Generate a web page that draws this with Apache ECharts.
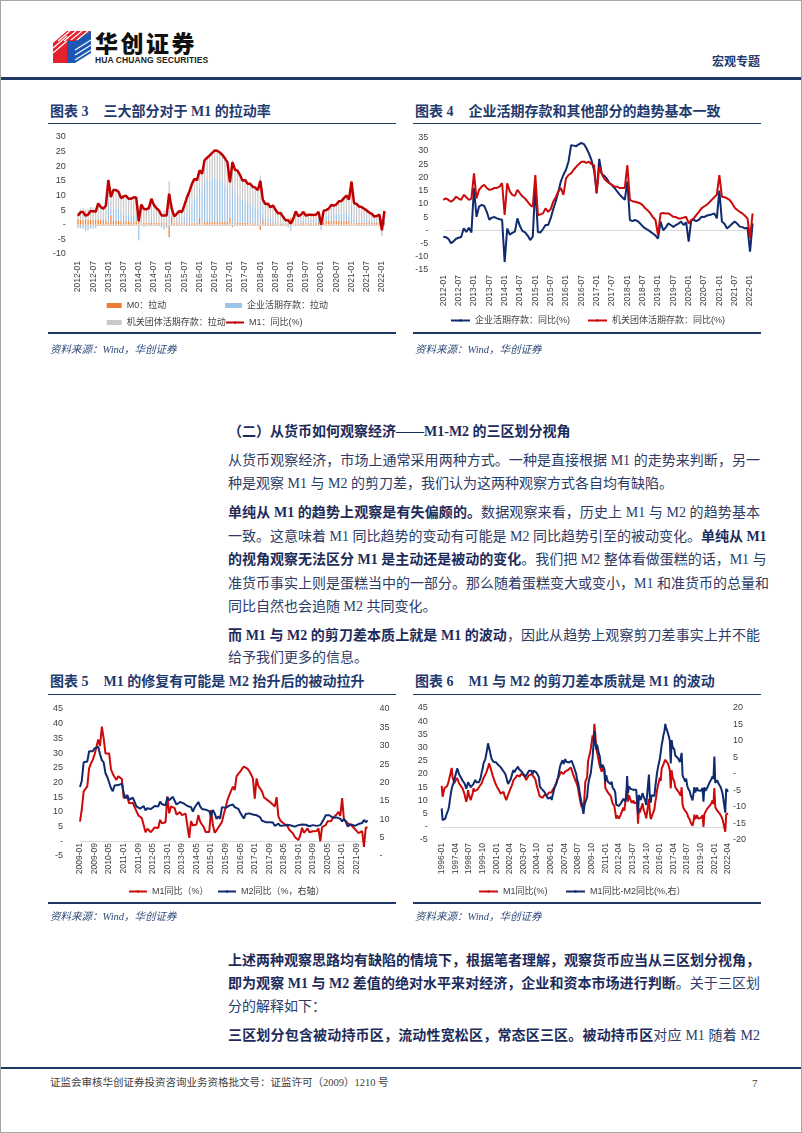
<!DOCTYPE html>
<html><head><meta charset="utf-8">
<script src="https://cdn.jsdelivr.net/npm/echarts@6/dist/echarts.min.js"></script>
<style>
body{margin:0;background:#fff;}
#page{position:relative;width:802px;height:1133px;background:#fff;overflow:hidden;font-family:"Liberation Serif","Noto Sans CJK SC",serif;}
#frame{position:absolute;left:0;top:0;width:800px;height:1131px;border:1px solid #a6a6a6;}
.t{position:absolute;left:228px;width:532px;font-size:14px;line-height:20px;height:20px;color:#2d3b66;white-space:nowrap;}
.j{text-align:justify;text-align-last:justify;}
.t b,.h{color:#1d2b5a;font-weight:bold;}
.ctitle{position:absolute;font-size:14px;font-weight:bold;color:#1f3a6e;line-height:18px;white-space:nowrap;}
.ul{position:absolute;height:1px;background:#1f3864;width:348px;}
.bl{position:absolute;height:2px;background:#1f3864;width:348px;}
.src{position:absolute;font-size:10.5px;line-height:14px;font-style:italic;color:#2f4a7a;white-space:nowrap;}
.chart{position:absolute;width:348px;height:205px;}
</style></head>
<body><div id="page">
<div id="frame"></div>
<!-- header -->
<svg style="position:absolute;left:52px;top:28px" width="40" height="36" viewBox="0 0 40 36">
<polygon points="1,15 15,3 15,35 1,35" fill="#e5222b"/>
<polygon points="15,3 39,3 27,13 15,13" fill="#e5222b"/>
<rect x="15" y="13" width="8" height="22" fill="#1d57b3"/>
<polygon points="23,13 39,3 39,25 23,35" fill="#1d57b3"/>
<g stroke="#fff" stroke-width="1.1">
<line x1="1" y1="20" x2="15" y2="8"/><line x1="1" y1="25" x2="15" y2="13"/>
<line x1="18" y1="3" x2="6" y2="13"/><line x1="24" y1="3" x2="12" y2="13"/><line x1="30" y1="3" x2="19" y2="12"/><line x1="36" y1="3" x2="25" y2="12"/>
<line x1="23" y1="22" x2="39" y2="12"/><line x1="23" y1="27" x2="39" y2="17"/><line x1="23" y1="32" x2="39" y2="22"/>
</g>
</svg>
<div style="position:absolute;left:95px;top:28px;font-family:'Noto Sans CJK SC';font-weight:900;font-size:23px;line-height:28px;letter-spacing:2.5px;color:#111;">华创证券</div>
<div style="position:absolute;left:95px;top:55px;font-family:'Liberation Sans Narrow','Liberation Sans';font-weight:bold;font-size:8.5px;line-height:10px;color:#222;letter-spacing:0.1px;">HUA CHUANG SECURITIES</div>
<div style="position:absolute;right:42px;top:54px;font-size:12px;line-height:16px;font-weight:bold;color:#1f3a6e;">宏观专题</div>
<div style="position:absolute;left:1px;top:77px;width:800px;height:3px;background:#1f3864;"></div>

<!-- chart titles -->
<div class="ctitle" style="left:50px;top:103px;">图表 3<span style="display:inline-block;width:15px"></span>三大部分对于 M1 的拉动率</div>
<div class="ul" style="left:48px;top:123px;"></div>
<div id="c3" class="chart" style="left:48px;top:128px;"></div>
<div class="bl" style="left:48px;top:332px;"></div>
<div class="src" style="left:50px;top:343px;">资料来源：Wind，华创证券</div>

<div class="ctitle" style="left:415px;top:103px;">图表 4<span style="display:inline-block;width:15px"></span>企业活期存款和其他部分的趋势基本一致</div>
<div class="ul" style="left:413px;top:123px;"></div>
<div id="c4" class="chart" style="left:413px;top:128px;"></div>
<div class="bl" style="left:413px;top:332px;"></div>
<div class="src" style="left:415px;top:343px;">资料来源：Wind，华创证券</div>

<!-- body text -->
<div class="t h" style="top:422px;">（二）从货币如何观察经济——M1-M2 的三区划分视角</div>
<div class="t j" style="top:451px;">从货币观察经济，市场上通常采用两种方式。一种是直接根据 M1 的走势来判断，另一</div>
<div class="t" style="top:474px;">种是观察 M1 与 M2 的剪刀差，我们认为这两种观察方式各自均有缺陷。</div>
<div class="t j" style="top:503px;"><b>单纯从 M1 的趋势上观察是有失偏颇的。</b>数据观察来看，历史上 M1 与 M2 的趋势基本</div>
<div class="t j" style="top:527px;">一致。这意味着 M1 同比趋势的变动有可能是 M2 同比趋势引至的被动变化。<b>单纯从 M1</b></div>
<div class="t j" style="top:550px;"><b>的视角观察无法区分 M1 是主动还是被动的变化</b>。我们把 M2 整体看做蛋糕的话，M1 与</div>
<div class="t j" style="top:574px;">准货币事实上则是蛋糕当中的一部分。那么随着蛋糕变大或变小，M1 和准货币的总量和</div>
<div class="t" style="top:597px;">同比自然也会追随 M2 共同变化。</div>
<div class="t j" style="top:626px;"><b>而 M1 与 M2 的剪刀差本质上就是 M1 的波动</b>，因此从趋势上观察剪刀差事实上并不能</div>
<div class="t" style="top:648px;">给予我们更多的信息。</div>

<div class="ctitle" style="left:50px;top:673px;">图表 5<span style="display:inline-block;width:15px"></span>M1 的修复有可能是 M2 抬升后的被动拉升</div>
<div class="ul" style="left:48px;top:694px;"></div>
<div id="c5" class="chart" style="left:48px;top:698px;"></div>
<div class="bl" style="left:48px;top:902px;"></div>
<div class="src" style="left:50px;top:910px;">资料来源：Wind，华创证券</div>

<div class="ctitle" style="left:415px;top:673px;">图表 6<span style="display:inline-block;width:15px"></span>M1 与 M2 的剪刀差本质就是 M1 的波动</div>
<div class="ul" style="left:413px;top:694px;"></div>
<div id="c6" class="chart" style="left:413px;top:698px;"></div>
<div class="bl" style="left:413px;top:902px;"></div>
<div class="src" style="left:415px;top:910px;">资料来源：Wind，华创证券</div>

<div class="t j" style="top:951px;"><b>上述两种观察思路均有缺陷的情境下，根据笔者理解，观察货币应当从三区划分视角，</b></div>
<div class="t j" style="top:974px;"><b>即为观察 M1 与 M2 差值的绝对水平来对经济，企业和资本市场进行判断</b>。关于三区划</div>
<div class="t" style="top:997px;">分的解释如下：</div>
<div class="t j" style="top:1026px;"><b>三区划分包含被动持币区，流动性宽松区，常态区三区。被动持币区</b>对应 M1 随着 M2</div>

<!-- footer -->
<div style="position:absolute;left:1px;top:1067px;width:800px;height:2px;background:#1f3864;"></div>
<div style="position:absolute;left:50px;top:1076px;font-size:10.5px;line-height:14px;color:#404040;white-space:nowrap;">证监会审核华创证券投资咨询业务资格批文号：证监许可（2009）1210 号</div>
<div style="position:absolute;left:752px;top:1076px;font-size:11px;line-height:14px;color:#404040;">7</div>
</div>

<script>
// ---------------- DATA ----------------
// M1 yoy (%), monthly 1996-01 .. 2022-04
const m1Yoy = [
15.5,11.4,13.0,14.6,14.0,15.0,15.5,16.5,17.7,17.0,18.0,22.3,
18.5,17.7,16.5,17.5,18.0,18.4,17.5,16.5,16.0,15.5,15.0,14.5,
13.9,12.5,11.0,9.5,11.0,13.9,12.0,11.0,10.1,11.5,12.5,14.6,
13.5,13.9,13.5,14.0,14.6,15.0,14.5,15.5,16.5,17.5,18.4,17.7,
19.0,20.5,21.5,22.5,24.0,23.0,22.0,20.8,19.5,18.5,17.5,16.5,
16.4,15.0,14.5,13.9,13.5,12.5,13.0,12.0,13.3,12.0,11.5,10.1,
11.0,12.0,13.0,13.9,14.5,15.5,16.5,17.7,18.0,18.5,19.0,19.5,
20.2,19.5,19.0,20.0,20.5,20.0,19.6,19.0,18.5,17.7,18.5,19.0,
19.5,19.6,20.0,20.0,19.5,19.0,19.0,18.0,16.5,15.0,13.9,12.5,
11.5,10.8,10.8,11.0,11.5,12.0,12.0,12.0,12.0,12.5,13.0,13.0,
13.3,13.0,14.0,14.5,15.0,15.5,16.5,17.7,18.0,19.0,20.0,20.8,
20.8,20.5,20.0,20.5,21.0,20.8,21.0,21.5,22.0,22.0,22.5,22.1,
20.5,19.5,18.5,17.7,18.0,16.0,14.5,12.5,10.5,8.8,7.5,9.0,
6.7,10.9,17.0,17.5,18.7,24.8,26.4,27.7,29.5,32.0,34.6,32.4,
39.0,35.0,29.9,30.4,29.9,24.6,22.9,21.9,20.9,22.1,22.1,21.2,
14.8,15.3,15.0,12.9,12.7,13.1,11.6,11.2,8.9,8.4,7.8,7.9,
3.1,4.3,4.4,3.1,3.5,4.7,4.6,4.5,7.3,6.1,5.5,6.5,
15.3,9.5,11.9,11.9,11.3,9.1,9.7,9.9,8.9,8.9,9.4,9.3,
1.2,6.9,5.4,5.3,5.7,8.9,6.7,5.7,4.8,3.2,3.2,3.2,
10.6,5.6,2.9,3.7,4.7,4.3,6.6,9.3,11.4,14.0,15.7,15.2,
18.6,17.4,22.1,22.9,23.7,24.6,25.4,25.3,24.7,23.9,22.7,21.4,
14.5,21.4,18.8,18.5,17.0,15.0,15.3,14.0,14.0,13.0,12.7,11.8,
15.0,8.5,7.1,7.2,6.0,6.6,5.1,3.9,4.0,2.7,1.5,1.5,
0.4,2.0,4.6,2.9,3.4,4.4,3.1,3.4,3.4,3.3,3.5,4.4,
0.0,4.8,5.0,5.5,6.8,6.5,6.9,8.0,8.1,9.1,10.0,8.6,
14.7,7.4,7.1,6.2,6.1,5.5,4.9,4.2,3.7,2.8,3.0,3.5,
-1.9,4.7,4.7,5.1];

// M1 yoy minus M2 yoy (pp), monthly 1996-01 .. 2022-04
const m1m2Gap = [
-10.4,-14.0,-14.5,-14.5,-13.5,-12.5,-12.0,-11.0,-10.0,-7.9,-6.0,-4.5,
-3.5,-2.8,-1.5,-0.5,0.5,1.7,1.0,0.0,-0.3,-1.0,-1.5,-2.0,
-2.5,-2.8,-3.5,-4.5,-3.5,-2.5,-2.3,-3.0,-4.0,-3.5,-4.3,-3.0,
-2.5,-1.8,-2.5,-3.0,-2.0,-2.5,-2.3,-1.0,0.5,1.5,3.2,3.0,
4.5,6.0,7.5,9.3,8.0,7.0,5.5,4.5,4.0,3.7,3.8,3.6,
3.5,3.0,2.8,2.5,2.2,2.0,1.5,1.2,1.0,0.7,0.0,-1.0,
-2.0,-3.0,-3.3,-3.0,-1.5,-0.5,0.5,1.2,0.5,1.0,1.5,2.0,
2.2,1.5,1.0,1.5,0.7,0.5,0.0,-0.5,-0.8,-0.5,0.0,0.5,
1.0,0.7,0.5,1.0,0.0,1.0,0.7,1.5,0.5,0.7,0.7,-1.0,
-3.8,-4.0,-4.5,-4.5,-5.0,-5.4,-6.0,-6.5,-7.0,-7.5,-7.9,-7.5,
-7.0,-7.9,-6.5,-5.5,-4.3,-4.0,-3.0,-2.0,-1.0,0.5,2.0,3.0,
3.5,4.2,3.0,3.5,4.5,3.7,3.5,4.0,3.5,3.7,3.0,4.0,
3.7,2.5,2.0,2.0,0.0,-1.8,-2.5,-4.0,-6.0,-7.5,-9.0,-8.5,
-12.1,-9.6,-8.5,-8.5,-7.0,-3.7,-2.0,-0.8,0.2,2.6,4.9,4.7,
12.9,9.5,7.4,8.9,8.9,6.1,5.3,2.7,1.9,2.8,2.6,1.5,
-2.4,-0.4,-1.6,-2.4,-2.4,-2.8,-3.1,-2.3,-4.1,-4.5,-4.9,-5.7,
-9.3,-8.7,-9.0,-9.7,-9.7,-8.9,-9.3,-9.0,-7.5,-8.0,-8.4,-7.3,
-0.6,-5.7,-3.8,-4.2,-4.5,-4.9,-4.8,-4.8,-5.3,-5.4,-4.8,-4.3,
-12.0,-6.4,-6.7,-7.9,-7.7,-5.8,-6.8,-7.1,-8.1,-9.4,-9.1,-9.0,
-0.2,-6.9,-8.7,-6.4,-6.1,-5.9,-6.7,-4.0,-1.7,0.5,2.0,1.9,
4.6,4.1,8.7,10.1,11.9,12.8,15.2,13.9,13.2,12.3,11.3,10.1,
3.2,10.3,8.2,8.0,7.4,5.6,6.1,5.1,4.8,4.2,3.6,3.6,
6.4,-0.3,-1.1,-1.1,-2.3,-1.4,-3.4,-4.3,-4.3,-5.3,-6.5,-6.6,
-8.0,-6.0,-4.0,-5.6,-5.1,-4.1,-5.0,-4.8,-5.0,-5.1,-4.7,-4.3,
-8.4,-4.0,-5.1,-5.6,-4.3,-4.6,-3.8,-2.4,-2.8,-1.4,-0.7,-1.5,
5.3,-2.7,-2.3,-1.9,-2.2,-3.1,-3.4,-4.0,-4.6,-5.9,-5.5,-5.5,
-11.7,-4.5,-5.0,-5.4];

// M2 yoy (%), monthly 2009-01 .. 2022-03
const m2Yoy = [
18.8,20.5,25.5,26.0,25.7,28.5,28.4,28.5,29.3,29.4,29.7,27.7,
26.1,25.5,22.5,21.5,21.0,18.5,17.6,19.2,19.0,19.3,19.5,19.7,
17.2,15.7,16.6,15.3,15.1,15.9,14.7,13.5,13.0,12.9,12.7,13.6,
12.4,13.0,13.4,12.8,13.2,13.6,13.9,13.5,14.8,14.1,13.9,13.8,
15.9,15.2,15.7,16.1,15.8,14.0,14.5,14.7,14.2,14.3,14.2,13.6,
13.2,13.3,12.1,13.2,13.4,14.7,13.5,12.8,12.9,12.6,12.3,12.2,
10.8,12.5,11.6,10.1,10.8,10.2,13.3,13.3,13.1,13.5,13.7,13.3,
14.0,13.3,13.4,12.8,11.8,11.8,10.2,11.4,11.5,11.6,11.4,11.3,
11.3,11.1,10.6,10.5,9.6,9.4,9.2,8.9,9.2,8.8,9.1,8.2,
8.6,8.8,8.2,8.3,8.3,8.0,8.5,8.2,8.3,8.0,8.0,8.1,
8.4,8.0,8.6,8.5,8.5,8.5,8.1,8.2,8.4,8.4,8.2,8.7,
8.4,8.8,10.1,11.1,11.1,11.1,10.7,10.4,10.9,10.5,10.7,10.1,
9.4,10.1,9.4,8.1,8.3,8.6,8.3,8.2,8.3,8.7,8.5,9.0,
9.8,9.2,9.7];

// Contributions to M1 yoy (pp), monthly 2012-01 .. 2022-02
const m0Pull = [
2.0,1.6,1.7,1.7,1.6,1.7,1.7,1.6,1.8,1.6,1.5,1.5,
0.6,3.2,1.4,1.3,1.3,1.2,1.2,1.2,1.2,1.1,1.1,1.2,
3.0,-0.3,0.7,0.7,0.7,0.6,0.6,0.6,0.6,0.6,0.5,0.5,
-4.3,2.8,0.5,0.5,0.5,0.5,0.5,0.5,0.5,0.5,0.5,0.6,
2.4,0.1,0.9,0.9,0.9,1.0,1.0,1.0,1.0,1.0,1.0,1.1,
2.5,-0.8,0.7,0.6,0.6,0.6,0.6,0.6,0.5,0.5,0.4,0.4,
-1.8,1.9,0.5,0.5,0.5,0.5,0.5,0.4,0.4,0.4,0.4,0.5,
2.5,-0.3,0.4,0.4,0.5,0.5,0.5,0.5,0.5,0.5,0.5,0.6,
1.3,0.6,1.4,1.4,1.4,1.4,1.3,1.3,1.3,1.2,1.3,1.2,
-0.5,0.5,0.7,0.7,0.7,0.7,0.7,0.7,0.6,0.6,0.6,0.6,
2.0,0.6];
const corpPull = [
-1.1,-1.2,-1.4,-2.2,-1.9,-1.4,-1.3,-1.1,0.4,-0.3,0.5,-0.4,
7.2,2.3,4.1,4.3,4.1,3.2,1.8,2.2,2.3,2.0,1.9,1.8,
-5.4,0.3,-0.7,-0.5,-0.2,2.0,0.7,-0.1,-0.4,-0.9,-1.7,-1.1,
7.7,-0.3,-0.4,0.2,0.9,0.9,2.0,3.6,5.0,6.5,8.3,9.5,
10.3,11.7,14.5,14.4,14.3,14.6,14.9,14.7,14.2,13.9,12.8,11.9,
6.3,12.2,9.6,9.3,8.8,8.0,7.7,7.2,6.6,6.1,5.6,5.2,
8.3,1.8,1.6,1.8,1.6,1.2,0.7,0.3,0.1,-0.2,-0.5,-0.9,
-1.4,1.5,0.0,0.5,1.2,0.9,0.6,0.9,1.1,1.5,0.9,1.4,
-1.9,1.8,1.8,1.6,1.8,2.3,2.3,2.5,2.6,2.7,2.9,2.0,
6.8,1.5,1.1,0.3,0.7,1.1,1.5,1.1,0.6,0.5,0.3,0.5,
-3.6,1.2];
const orgPull = [
2.2,3.9,4.1,3.6,3.8,4.4,4.2,4.0,5.1,4.8,3.5,5.4,
7.5,4.0,6.4,6.3,5.9,4.7,6.7,6.5,5.4,5.8,6.4,6.3,
3.6,6.9,5.4,5.1,5.2,6.3,5.4,5.2,4.6,3.5,4.4,3.8,
7.2,3.1,2.8,3.0,3.3,2.9,4.1,5.2,5.9,7.0,6.9,5.1,
5.9,5.6,6.7,7.6,8.5,9.0,9.5,9.6,9.5,9.0,8.9,8.4,
5.7,10.0,8.5,8.6,7.6,6.4,7.0,6.2,6.9,6.4,6.7,6.2,
8.5,4.8,5.0,4.9,3.9,4.9,3.9,3.2,3.5,2.5,1.6,1.9,
-0.7,0.8,4.2,2.0,1.7,3.0,2.0,2.0,1.8,1.3,2.1,2.4,
0.6,2.4,1.8,2.5,3.6,2.8,3.3,4.2,4.2,5.2,5.8,5.4,
8.4,5.4,5.3,5.2,4.7,3.7,2.7,2.4,2.5,1.7,2.1,2.4,
-0.3,2.9];

// Yoy of demand deposits (%), monthly 2012-01 .. 2022-02
const corpYoy = [
-2.4,-2.6,-3.2,-4.9,-4.2,-3.2,-2.8,-2.5,0.8,-0.6,1.0,-0.8,
16.0,5.1,9.0,9.6,9.2,7.0,4.0,4.8,5.0,4.5,4.2,4.0,
-12.0,0.7,-1.6,-1.0,-0.5,4.5,1.5,-0.3,-0.8,-2.0,-3.7,-2.4,
17.0,-0.6,-0.8,0.5,2.0,2.0,4.5,8.0,11.0,14.5,18.5,21.0,
22.9,26.0,32.2,32.0,31.8,32.5,33.0,32.6,31.0,29.0,26.4,22.6,
14.0,27.0,21.3,20.6,19.5,17.8,17.0,16.0,14.7,13.5,12.5,11.5,
18.5,3.9,3.5,3.9,3.5,2.6,1.5,0.7,0.2,-0.5,-1.2,-2.0,
-3.1,3.3,0.0,1.0,2.6,2.0,1.3,2.0,2.5,3.3,2.0,3.0,
-4.3,3.9,3.9,3.5,4.0,5.1,5.0,5.5,5.8,6.0,6.4,4.5,
15.0,3.3,2.5,0.7,1.5,2.5,3.3,2.5,1.4,1.2,0.7,1.0,
-8.1,2.6];
const orgYoy = [
11.5,12.1,11.5,10.8,11.5,12.7,12.0,11.5,13.4,12.5,11.5,12.0,
21.5,12.1,15.3,16.5,17.2,16.0,15.3,15.5,16.0,16.0,16.5,17.8,
5.8,17.8,14.7,13.4,13.0,15.3,14.0,12.8,12.0,10.8,9.5,8.9,
20.9,5.8,6.0,6.4,8.3,7.0,8.0,10.8,12.5,14.7,16.0,13.4,
19.6,20.9,21.5,22.9,24.0,25.0,25.9,25.9,25.5,25.9,25.0,24.6,
14.0,24.0,21.3,19.5,18.5,17.8,17.2,16.5,16.5,16.0,16.0,16.0,
24.6,11.5,11.0,10.8,10.5,10.2,9.5,8.3,7.5,6.4,5.0,3.9,
-1.8,6.4,6.5,6.4,6.4,5.8,5.1,5.0,4.5,4.5,4.8,5.1,
2.6,3.9,4.5,5.8,7.0,8.3,9.0,9.6,10.5,11.5,12.5,13.4,
20.9,12.7,12.5,12.1,11.5,10.2,8.5,7.7,7.0,6.4,5.5,4.5,
-3.0,6.4];

// month categories
function monthLabels(y0, mo0, n) {
  const a = [];
  for (let i = 0; i < n; i++) {
    const t = mo0 - 1 + i, y = y0 + Math.floor(t / 12), m = t % 12 + 1;
    a.push(y + '-' + (m < 10 ? '0' : '') + m);
  }
  return a;
}
const months3 = monthLabels(2012, 1, corpPull.length);   // 2012-01 .. 2022-02
const months5 = monthLabels(2009, 1, m2Yoy.length);      // 2009-01 .. 2022-03
const months6 = monthLabels(1996, 1, m1Yoy.length);      // 1996-01 .. 2022-04
const m1For3 = m1Yoy.slice(192, 192 + months3.length);
const m1For5 = m1Yoy.slice(156, 156 + months5.length);

// ---------------- STYLE HELPERS ----------------
const FONT = '"Liberation Sans","Noto Sans CJK SC",sans-serif';
const LBL = '#404040';
const RED = '#cc0a0a', NAVY = '#0f2a6e';
function yAx(min, max, interval, margin, position) {
  return { type: 'value', min, max, interval, position,
    axisLine: { show: false }, axisTick: { show: false }, splitLine: { show: false },
    axisLabel: { color: LBL, fontSize: 9, fontFamily: FONT, margin,
      formatter: v => (v === 0 ? '-' : String(v)) } };
}
function xAx(data, interval, margin, boundaryGap) {
  return { type: 'category', data, boundaryGap, position: 'bottom',
    axisTick: { show: false },
    axisLine: { show: false, onZero: false },
    axisLabel: { interval, rotate: 90, margin, fontSize: 8.5, color: LBL, fontFamily: FONT } };
}
function leg(name, left, top, icon, w, h) {
  const o = { data: [name], left, top, padding: 0, itemWidth: w, itemHeight: h,
    textStyle: { fontSize: 9, color: LBL, fontFamily: FONT }, selectedMode: false };
  if (icon) o.icon = icon;
  return o;
}
const zeroMark = { silent: true, symbol: 'none', label: { show: false },
  lineStyle: { color: '#d9d9d9', width: 1, type: 'solid' }, data: [{ yAxis: 0 }], animation: false };
function grid(left, right, top, height) {
  return { left, right, top, height, containLabel: false, outerBoundsMode: 'none' };
}
function line(name, data, color, width, yAxisIndex, extra) {
  return Object.assign({ name, type: 'line', data, yAxisIndex: yAxisIndex || 0, symbol: 'none',
    showSymbol: false, lineStyle: { color, width }, itemStyle: { color }, z: 5 }, extra || {});
}

// ---------------- CHART 3 ----------------
const c3 = echarts.init(document.getElementById('c3'));
c3.setOption({
  animation: false,
  grid: grid(28.7, 10.3, 9, 117),
  xAxis: xAx(months3, 5, 7, true),
  yAxis: yAx(-10, 30, 5, 11),
  legend: [
    leg('M0：拉动', 58.7, 173, 'rect', 15, 5),
    leg('企业活期存款：拉动', 177, 173, 'rect', 17, 5),
    leg('机关团体活期存款：拉动', 58.7, 190, 'rect', 15, 5),
    leg('M1：同比(%)', 177, 190, null, 18, 3)
  ],
  series: [
    { name: 'M0：拉动', type: 'bar', stack: 'p', data: m0Pull, barWidth: 1.2, itemStyle: { color: '#ed7d31' },
      markLine: zeroMark },
    { name: '企业活期存款：拉动', type: 'bar', stack: 'p', data: corpPull, barWidth: 1.2, itemStyle: { color: '#9dc3e6' } },
    { name: '机关团体活期存款：拉动', type: 'bar', stack: 'p', data: orgPull, barWidth: 1.2, itemStyle: { color: '#c9c9c9' } },
    line('M1：同比(%)', m1For3, '#c00000', 2.5, 0)
  ]
});

// ---------------- CHART 4 ----------------
const c4 = echarts.init(document.getElementById('c4'));
c4.setOption({
  animation: false,
  grid: grid(30.3, 8.4, 9.7, 132.3),
  xAxis: xAx(months3, 5, 5, false),
  yAxis: yAx(-15, 35, 5, 15),
  legend: [
    leg('企业活期存款：同比(%)', 37, 188, null, 19, 3),
    leg('机关团体活期存款：同比(%)', 174, 188, null, 19, 3)
  ],
  series: [
    line('企业活期存款：同比(%)', corpYoy, NAVY, 2, 0, { markLine: zeroMark }),
    line('机关团体活期存款：同比(%)', orgYoy, RED, 2, 0)
  ]
});

// ---------------- CHART 5 ----------------
// x labels hang just below the zero line (inside the -5 band), as in the source
const c5 = echarts.init(document.getElementById('c5'));
c5.setOption({
  animation: false,
  grid: grid(32, 28.4, 11, 147),
  xAxis: xAx(months5, 7, -13, false),
  yAxis: [yAx(-5, 45, 5, 17, 'left'), yAx(0, 40, 5, 12, 'right')],
  legend: [
    leg('M1同比（%）', 80, 189, null, 18, 3),
    leg('M2同比（%，右轴）', 169, 189, null, 18, 3)
  ],
  series: [
    line('M1同比（%）', m1For5, RED, 2, 0, { markLine: zeroMark }),
    line('M2同比（%，右轴）', m2Yoy, NAVY, 2, 1)
  ]
});

// ---------------- CHART 6 ----------------
const c6 = echarts.init(document.getElementById('c6'));
c6.setOption({
  animation: false,
  grid: grid(28.7, 33, 10, 132),
  xAxis: xAx(months6, 14, 3, false),
  yAxis: [yAx(-5, 45, 5, 14, 'left'), yAx(-20, 20, 5, 5, 'right')],
  legend: [
    leg('M1同比(%)', 65, 189, null, 19, 3),
    leg('M1同比-M2同比(%,右）', 152, 189, null, 19, 3)
  ],
  series: [
    line('M1同比(%)', m1Yoy, RED, 2, 0, { markLine: zeroMark }),
    line('M1同比-M2同比(%,右）', m1m2Gap, NAVY, 2, 1)
  ]
});
</script>
</body></html>
